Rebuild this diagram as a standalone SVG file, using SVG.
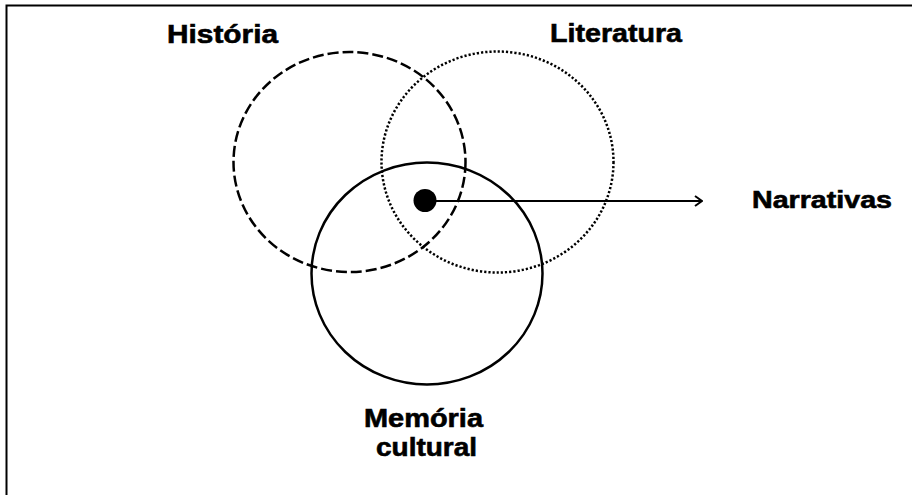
<svg xmlns="http://www.w3.org/2000/svg" width="912" height="495" viewBox="0 0 912 495">
<defs>
<style>
.lbl{font-family:"Liberation Sans",Arial,sans-serif;font-weight:bold;fill:#000;stroke:#000;stroke-width:0.6;}
.c{fill:none;stroke:#000;stroke-width:2.5;}
</style>
<marker id="ah" viewBox="0 0 10 12" refX="9" refY="6" markerWidth="10" markerHeight="12" markerUnits="userSpaceOnUse" orient="auto">
<path d="M2,1 L9,6 L2,11" fill="none" stroke="#000" stroke-width="2"/>
</marker>
</defs>
<rect width="912" height="495" fill="#fff"/>
<path d="M6.5,495 V5.5 H912" fill="none" stroke="#000" stroke-width="2"/>
<g id="historia">
<ellipse class="c" cx="349.5" cy="162" rx="116" ry="110" stroke-dasharray="11 4"/>
<text class="lbl" x="167" y="42.5" font-size="26" textLength="111" lengthAdjust="spacingAndGlyphs">História</text>
</g>
<g id="literatura">
<ellipse class="c" cx="497.5" cy="162" rx="116" ry="110.5" stroke-dasharray="2.2 2"/>
<text class="lbl" x="550" y="42.3" font-size="26" textLength="132" lengthAdjust="spacingAndGlyphs">Literatura</text>
</g>
<g id="memoria">
<ellipse class="c" cx="427" cy="273.5" rx="115.5" ry="111"/>
<text class="lbl" x="364" y="426.7" font-size="25" textLength="119" lengthAdjust="spacingAndGlyphs">Memória</text>
<text class="lbl" x="376" y="455.7" font-size="25" textLength="101" lengthAdjust="spacingAndGlyphs">cultural</text>
</g>
<g id="narrativas">
<text class="lbl" x="752" y="207.5" font-size="23" textLength="140" lengthAdjust="spacingAndGlyphs">Narrativas</text>
</g>
<g id="connectors">
<circle cx="425" cy="200.5" r="11.5" fill="#000"/>
<line x1="425" y1="201" x2="702" y2="201" stroke="#000" stroke-width="2" marker-end="url(#ah)"/>
</g>
</svg>
